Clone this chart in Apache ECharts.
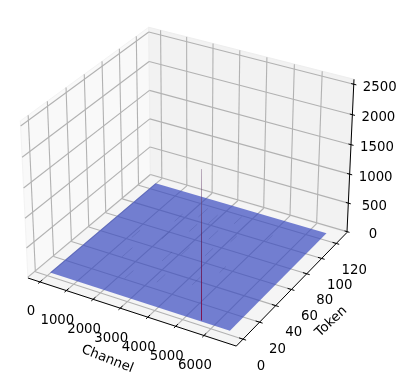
<!DOCTYPE html>
<html><head><meta charset="utf-8">
<style>html,body{margin:0;padding:0;background:#fff}#c{width:398px;height:373px}</style>
<script src="https://cdn.jsdelivr.net/npm/echarts@6/dist/echarts.min.js"></script>
</head><body><div id="c"></div>
<script>
// ---- data ----
const channelTicks = [0, 1000, 2000, 3000, 4000, 5000, 6000];
const tokenTicks = [0, 20, 40, 60, 80, 100, 120];
const valueTicks = [0, 500, 1000, 1500, 2000, 2500];
const surfaceChannels = [0, 6580];
const surfaceTokens = [3, 127];
const surfaceLevel = 0;
// tall peak: channel, token, value
const peak = [5565, 4, 2450];
// faint ridges: channel, tokenFrom, tokenTo
const ridges = [
  [1150, 62, 72],[1500, 40, 52],[1850, 92, 102],[2050, 70, 80],[2250, 20, 30],[2400, 104, 116],
  [2600, 86, 96],[2750, 48, 60],[2900, 100, 112],[3100, 60, 70],[3250, 26, 36],[3400, 84, 96],
  [3650, 108, 118],[3800, 66, 76],[4100, 88, 96],[4300, 34, 44],[4700, 54, 62],[5100, 100, 108]
];
const xName = 'Channel', yName = 'Token';

// ---- axis box and view ----
const xRange = [-460, 7125], yRange = [-8, 135], zRange = [-15, 2580];
const elev = 30 * Math.PI / 180, azim = -60 * Math.PI / 180, dist = 10;
const boxA = 1.1905, boxC = 0.8929;
const scaleK = 2005, cx = 190.4, cy = 179;
const w = [Math.cos(elev) * Math.cos(azim), Math.cos(elev) * Math.sin(azim), Math.sin(elev)];
const un = Math.hypot(w[0], w[1]);
const u = [-w[1] / un, w[0] / un, 0];
const v = [w[1] * u[2] - w[2] * u[1], w[2] * u[0] - w[0] * u[2], w[0] * u[1] - w[1] * u[0]];
const dot = (a, b) => a[0] * b[0] + a[1] * b[1] + a[2] * b[2];
function project(x, y, z) {
  const p = [
    ((x - xRange[0]) / (xRange[1] - xRange[0]) - 0.5) * boxA,
    ((y - yRange[0]) / (yRange[1] - yRange[0]) - 0.5) * boxA,
    ((z - zRange[0]) / (zRange[1] - zRange[0]) - 0.5) * boxC
  ];
  const d = dist - dot(w, p);
  return [cx + scaleK * dot(u, p) / d, cy - scaleK * dot(v, p) / d];
}
const [x0, x1] = xRange, [y0, y1] = yRange, [z0, z1] = zRange;
const xSpan = x1 - x0, ySpan = y1 - y0;

function line(a, b, stroke, lineWidth) {
  return { type: 'line', shape: { x1: a[0], y1: a[1], x2: b[0], y2: b[1] }, style: { stroke, lineWidth }, silent: true };
}
function poly(pts, fill, stroke) {
  return { type: 'polygon', shape: { points: pts }, style: { fill, stroke: stroke || null, lineWidth: 1 }, silent: true };
}
function label(text, pos, dx, dy, rotation) {
  return {
    type: 'text', x: pos[0] + dx, y: pos[1] + dy, rotation: rotation || 0, silent: true,
    style: { text: String(text), fill: '#000', font: '13.3px "DejaVu Sans"', align: 'center', verticalAlign: 'middle' }
  };
}
function layer(name, build) {
  return {
    type: 'custom', name, coordinateSystem: 'none', silent: true, animation: false,
    data: [0], clip: false,
    renderItem: () => ({ type: 'group', children: build() })
  };
}

const series = [
  layer('panes', () => [
    poly([project(x0, y0, z0), project(x0, y1, z0), project(x0, y1, z1), project(x0, y0, z1)], '#f9f9f9', '#f3f3f3'),
    poly([project(x0, y1, z0), project(x1, y1, z0), project(x1, y1, z1), project(x0, y1, z1)], '#f2f2f2', '#eeeeee'),
    poly([project(x0, y0, z0), project(x1, y0, z0), project(x1, y1, z0), project(x0, y1, z0)], '#f5f5f5', '#f0f0f0')
  ]),
  layer('grid', () => {
    const c = [], col = '#b2b2b2';
    channelTicks.forEach(t => {
      c.push(line(project(t, y0, z0), project(t, y1, z0), col, 1.1));
      c.push(line(project(t, y1, z0), project(t, y1, z1), col, 1.1));
    });
    tokenTicks.forEach(t => {
      c.push(line(project(x1, t, z0), project(x0, t, z0), col, 1.1));
      c.push(line(project(x0, t, z0), project(x0, t, z1), col, 1.1));
    });
    valueTicks.forEach(t => {
      c.push(line(project(x0, y0, t), project(x0, y1, t), col, 1.1));
      c.push(line(project(x0, y1, t), project(x1, y1, t), col, 1.1));
    });
    return c;
  }),
  layer('surface', () => {
    const [a, b] = surfaceChannels, [e, f] = surfaceTokens, z = surfaceLevel;
    const c = [poly([project(a, e, z), project(b, e, z), project(b, f, z), project(a, f, z)], 'rgba(59,76,192,0.7)')];
    ridges.forEach(r => c.push(line(project(r[0], r[1], z), project(r[0], r[2], z), 'rgba(40,50,120,0.18)', 1)));
    return c;
  }),
  layer('peak', () => {
    const base = project(peak[0], peak[1], surfaceLevel), top = project(peak[0], peak[1], peak[2]);
    const gx = Math.floor(base[0]) + 0.5;
    return [{
      type: 'line', silent: true,
      shape: { x1: gx, y1: base[1], x2: gx, y2: top[1] },
      style: {
        lineWidth: 1,
        stroke: new echarts.graphic.LinearGradient(0, base[1], 0, top[1], [
          { offset: 0, color: 'rgba(130,10,70,0.95)' },
          { offset: 0.55, color: 'rgba(90,30,90,0.7)' },
          { offset: 1, color: 'rgba(120,90,125,0.45)' }
        ], true)
      }
    }];
  }),
  layer('axes', () => {
    const c = [], k = '#000';
    c.push(line(project(x0, y0, z0), project(x1, y0, z0), k, 1));
    c.push(line(project(x1, y0, z0), project(x1, y1, z0), k, 1));
    c.push(line(project(x1, y1, z0), project(x1, y1, z1), k, 1));
    channelTicks.forEach(t => {
      c.push(line(project(t, y0 + ySpan * 0.018, z0), project(t, y0 - ySpan * 0.014, z0), k, 1));
      c.push(label(t, project(t, y0, z0), -9, 30));
    });
    tokenTicks.forEach(t => {
      c.push(line(project(x1 - xSpan * 0.018, t, z0), project(x1 + xSpan * 0.014, t, z0), k, 1));
      c.push(label(t, project(x1, t, z0), 18, 27));
    });
    valueTicks.forEach(t => {
      c.push(line(project(x1 - xSpan * 0.012, y1, t), project(x1 + xSpan * 0.012, y1, t), k, 1));
      c.push(label(t, project(x1, y1, t), 26, 3));
    });
    c.push(label(xName, project((x0 + x1) / 2, y0, z0), -22, 48, -0.38));
    c.push(label(yName, project(x1, (y0 + y1) / 2, z0), 37, 35, 0.75));
    return c;
  })
];

const chart = echarts.init(document.getElementById('c'), null, { renderer: 'canvas', width: 398, height: 373 });
chart.setOption({ backgroundColor: '#fff', animation: false, tooltip: { show: false }, series });
</script></body></html>
